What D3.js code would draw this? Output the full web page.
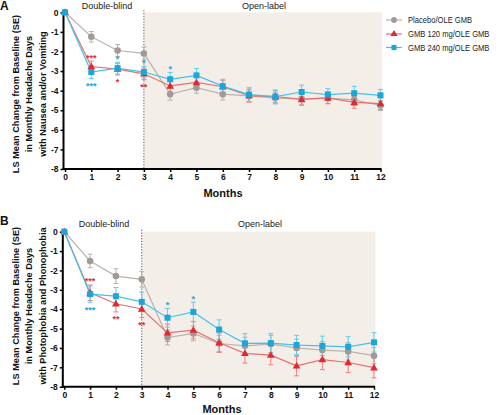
<!DOCTYPE html>
<html>
<head>
<meta charset="utf-8">
<script src="https://cdn.jsdelivr.net/npm/d3@7"></script>
<style>
  html, body { margin: 0; padding: 0; background: #fff; }
  svg { display: block; font-family: "Liberation Sans", Arial, sans-serif; }
</style>
</head>
<body>
<svg id="chart" width="500" height="415"></svg>
<script>
// ---------------- DATA ----------------
const months = [0, 1, 2, 3, 4, 5, 6, 7, 8, 9, 10, 11, 12];
const yTicks = [0, -1, -2, -3, -4, -5, -6, -7, -8];
const seriesNames = ["Placebo/OLE GMB", "GMB 120 mg/OLE GMB", "GMB 240 mg/OLE GMB"];

// Panel A: Monthly headache days with nausea and/or vomiting
const A_placebo = [0, -1.25, -1.95, -2.10, -4.18, -3.85, -4.18, -4.27, -4.38, -4.42, -4.38, -4.47, -4.76];
const A_gmb120  = [0, -2.77, -2.90, -3.14, -3.76, -3.58, -3.80, -4.25, -4.30, -4.45, -4.37, -4.60, -4.66];
const A_gmb240  = [0, -3.05, -2.85, -3.05, -3.42, -3.22, -3.77, -4.20, -4.30, -4.07, -4.20, -4.13, -4.24];
const A_placeboSE = [0, 0.27, 0.30, 0.33, 0.30, 0.28, 0.30, 0.30, 0.30, 0.28, 0.28, 0.30, 0.25];
const A_gmb120SE  = [0, 0.28, 0.30, 0.30, 0.32, 0.30, 0.33, 0.33, 0.33, 0.30, 0.30, 0.30, 0.30];
const A_gmb240SE  = [0, 0.33, 0.30, 0.30, 0.35, 0.35, 0.35, 0.35, 0.30, 0.35, 0.30, 0.35, 0.30];
const A_titleLines = ["LS Mean Change from Baseline (SE)", "in Monthly Headache Days", "with Nausea and/or Vomiting"];
// significance: [month, series index, label, side]
const A_sig = [[1, 1, "***", "above"], [1, 2, "***", "below"], [2, 2, "*", "above"], [2, 1, "*", "below"],
               [3, 2, "*", "above"], [3, 1, "**", "below"], [4, 2, "*", "above"]];

// Panel B: Monthly headache days with photophobia and phonophobia
const B_placebo = [0, -1.51, -2.29, -2.46, -5.46, -5.25, -5.77, -5.89, -5.80, -6.00, -6.11, -6.18, -6.40];
const B_gmb120  = [0, -3.15, -3.72, -3.99, -5.22, -5.08, -5.73, -6.28, -6.37, -6.92, -6.60, -6.75, -7.02];
const B_gmb240  = [0, -3.22, -3.33, -3.62, -4.44, -4.14, -5.05, -5.76, -5.75, -5.85, -5.89, -5.94, -5.71];
const B_placeboSE = [0, 0.35, 0.38, 0.40, 0.38, 0.38, 0.42, 0.45, 0.45, 0.45, 0.45, 0.45, 0.42];
const B_gmb120SE  = [0, 0.40, 0.42, 0.45, 0.45, 0.45, 0.50, 0.50, 0.50, 0.52, 0.52, 0.52, 0.52];
const B_gmb240SE  = [0, 0.42, 0.45, 0.50, 0.48, 0.50, 0.50, 0.50, 0.50, 0.50, 0.50, 0.52, 0.50];
const B_titleLines = ["LS Mean Change from Baseline (SE)", "in Monthly Headache Days", "with Photophobia and Phonophobia"];
const B_sig = [[1, 1, "***", "above"], [1, 2, "***", "below"], [2, 1, "**", "below"],
               [3, 1, "**", "below"], [4, 2, "*", "above"], [5, 2, "*", "above"]];

const phaseLabels = ["Double-blind", "Open-label"];
const xTitle = "Months";

// ---------------- STYLE ----------------
const markerColors = ["#a19b98", "#df2a33", "#1ca5d8"];
const lineColors   = ["#bbb3ae", "#e96f70", "#45c2ea"];
const errColors    = ["#b9b1ad", "#ee7f80", "#62cbea"];
const shade = "#f4eee9";

const svg = d3.select("#chart");

function drawPanel(cfg) {
  const g = svg.append("g");
  const x = d3.scaleLinear().domain([0, 12]).range([cfg.x0, cfg.x1]);
  const y = d3.scaleLinear().domain([0, -8]).range([cfg.y0, cfg.y1]);

  // shaded open-label region
  g.append("rect")
    .attr("x", x(3)).attr("y", y(0))
    .attr("width", x(12) - x(3) + 1.5).attr("height", y(-8) - y(0))
    .attr("fill", shade);

  // dotted divider
  g.append("line")
    .attr("x1", x(3)).attr("x2", x(3))
    .attr("y1", y(0) - 2).attr("y2", y(-8))
    .attr("stroke", "#555").attr("stroke-width", 1)
    .attr("stroke-dasharray", "1.2,1.6");

  // axes
  const xAxis = d3.axisBottom(x).tickValues(months).tickSize(3).tickPadding(2).tickFormat(d3.format("d"));
  const yAxis = d3.axisLeft(y).tickValues(yTicks).tickSize(3).tickPadding(2).tickFormat(d => d === 0 ? "0" : "-" + Math.abs(d));
  const gx = g.append("g").attr("transform", `translate(0,${y(-8)})`).call(xAxis);
  const gy = g.append("g").attr("transform", `translate(${x(0) - 1.5},0)`).call(yAxis);
  [gx, gy].forEach(ax => {
    ax.select(".domain").attr("stroke", "#000").attr("stroke-width", 2);
    ax.selectAll(".tick line").attr("stroke", "#000").attr("stroke-width", 1.5);
    ax.selectAll(".tick text").attr("fill", "#111").attr("font-size", 8.5).attr("font-weight", "bold")
      .attr("font-family", "'Liberation Sans', Arial, sans-serif");
  });
  gx.select(".domain").attr("d", `M${x(0) - 2.5},0H${x(12) + 1}`);
  gy.select(".domain").attr("d", `M0,${y(0)}V${y(-8) + 1}`);

  // phase labels
  g.append("text").attr("x", cfg.dbX).attr("y", cfg.phaseY).attr("text-anchor", "middle")
    .attr("font-size", 9).attr("fill", "#222").text(phaseLabels[0]);
  g.append("text").attr("x", cfg.olX).attr("y", cfg.phaseY).attr("text-anchor", "middle")
    .attr("font-size", 9).attr("fill", "#222").text(phaseLabels[1]);

  // panel letter
  g.append("text").attr("x", 0).attr("y", cfg.letterY).attr("font-size", 12).attr("font-weight", "bold")
    .attr("fill", "#111").text(cfg.letter);

  // y title
  cfg.titleLines.forEach((t, i) => {
    g.append("text")
      .attr("transform", `translate(${18.5 + i * 13.8},${cfg.titleCY}) rotate(-90)`)
      .attr("text-anchor", "middle").attr("font-size", 9.2).attr("font-weight", "bold")
      .attr("fill", "#111").text(t);
  });

  // x title
  g.append("text").attr("x", cfg.monthsX).attr("y", cfg.monthsY).attr("text-anchor", "middle")
    .attr("font-size", 11).attr("font-weight", "bold").attr("fill", "#111").text(xTitle);

  const line = d3.line().x((d, i) => x(months[i])).y(d => y(d));

  cfg.series.forEach((vals, s) => {
    g.append("path").datum(vals).attr("d", line)
      .attr("fill", "none").attr("stroke", lineColors[s]).attr("stroke-width", 1.2);
  });

  // error bars
  cfg.series.forEach((vals, s) => {
    const se = cfg.se[s];
    const eg = g.append("g").attr("stroke", errColors[s]).attr("stroke-width", 1);
    vals.forEach((v, i) => {
      if (se[i] === 0) return;
      const cx = x(months[i]);
      eg.append("line").attr("x1", cx).attr("x2", cx).attr("y1", y(v + se[i])).attr("y2", y(v - se[i]));
      eg.append("line").attr("x1", cx - 2.5).attr("x2", cx + 2.5).attr("y1", y(v + se[i])).attr("y2", y(v + se[i]));
      eg.append("line").attr("x1", cx - 2.5).attr("x2", cx + 2.5).attr("y1", y(v - se[i])).attr("y2", y(v - se[i]));
    });
  });

  // markers
  const symbols = [d3.symbolCircle, d3.symbolTriangle, d3.symbolSquare];
  const sizes = [34, 26, 36];
  cfg.series.forEach((vals, s) => {
    g.append("g").selectAll("path").data(vals).join("path")
      .attr("transform", (d, i) => `translate(${x(months[i])},${y(d) + (s === 1 ? 0.5 : 0)})`)
      .attr("d", d3.symbol().type(symbols[s]).size(sizes[s]))
      .attr("fill", markerColors[s]);
  });

  // significance markers
  cfg.sig.forEach(([m, s, label, side]) => {
    const v = cfg.series[s][m], se = cfg.se[s][m];
    const ty = side === "above" ? y(v + se) - 0.5 : y(v - se) + 10.5;
    g.append("text").attr("x", x(m)).attr("y", ty).attr("text-anchor", "middle")
      .attr("font-size", 9).attr("font-weight", "bold").attr("fill", markerColors[s]).text(label);
  });
}

drawPanel({
  letter: "A", letterY: 10,
  x0: 65, x1: 380.5, y0: 12.3, y1: 169,
  series: [A_placebo, A_gmb120, A_gmb240],
  se: [A_placeboSE, A_gmb120SE, A_gmb240SE],
  sig: A_sig, titleLines: A_titleLines, titleCY: 94,
  dbX: 107, olX: 264, phaseY: 8.5,
  monthsX: 223, monthsY: 197
});

drawPanel({
  letter: "B", letterY: 225,
  x0: 64.3, x1: 374, y0: 231.7, y1: 386.7,
  series: [B_placebo, B_gmb120, B_gmb240],
  se: [B_placeboSE, B_gmb120SE, B_gmb240SE],
  sig: B_sig, titleLines: B_titleLines, titleCY: 306,
  dbX: 104, olX: 260, phaseY: 227,
  monthsX: 222, monthsY: 413
});

// legend
const legend = svg.append("g");
const legSymbols = [d3.symbolCircle, d3.symbolTriangle, d3.symbolSquare];
const legY = [20, 34, 47.5];
seriesNames.forEach((name, s) => {
  const ly = legY[s];
  legend.append("line").attr("x1", 386).attr("x2", 402).attr("y1", ly).attr("y2", ly)
    .attr("stroke", lineColors[s]).attr("stroke-width", 1.2);
  legend.append("path").attr("transform", `translate(394,${ly})`)
    .attr("d", d3.symbol().type(legSymbols[s]).size(s === 1 ? 22 : 26)).attr("fill", markerColors[s]);
  legend.append("text").attr("transform", `translate(408,${ly + 3.3}) scale(0.8,1)`)
    .attr("font-size", 9.5).attr("fill", "#222").text(name);
});
</script>
</body>
</html>
